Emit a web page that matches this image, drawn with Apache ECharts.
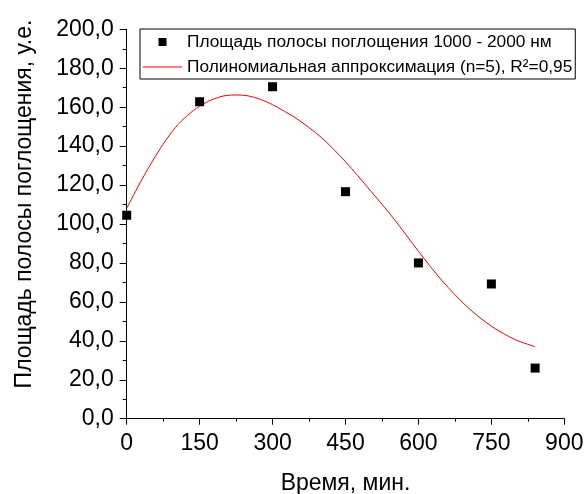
<!DOCTYPE html>
<html>
<head>
<meta charset="utf-8">
<script src="https://cdn.jsdelivr.net/npm/echarts@6/dist/echarts.min.js"></script>
<style>html,body{margin:0;padding:0;background:#fff;}#c{width:587px;height:494px;}</style>
</head>
<body>
<div id="c"></div>
<script>
// Measured points
var timeMin = [0, 150, 300, 450, 600, 750, 840];
var bandArea = [104.5, 162.8, 170.5, 116.6, 80.0, 69.2, 26.0];
// Polynomial fit curve
var fitX = [0, 25, 50, 75, 100, 125, 150, 175, 200, 225, 250, 275, 300, 350, 400, 450, 500, 550, 600, 650, 700, 750, 800, 840];
var fitY = [108, 120, 131, 141, 149.5, 155.8, 160.5, 163.8, 165.8, 166.3, 165.8, 164, 161.3, 154, 144.5, 132, 117.5, 102.5, 86, 70.5, 57.5, 47.5, 40.5, 37];
// Axis ticks
var xTicks = [0, 150, 300, 450, 600, 750, 900];
var yTicks = [0, 20, 40, 60, 80, 100, 120, 140, 160, 180, 200];

var seriesNames = ['Площадь полосы поглощения 1000 - 2000 нм', 'Полиномиальная аппроксимация (n=5), R²=0,95'];

var chart = echarts.init(document.getElementById('c'));
var font = '"Liberation Sans", Arial, sans-serif';
chart.setOption({
  animation: false,
  backgroundColor: '#fff',
  grid: { left: 126.7, right: 22.7, top: 29.3, bottom: 75.3, containLabel: false, outerBoundsMode: 'none' },
  legend: {
    left: 140, top: 29,
    orient: 'vertical',
    padding: [3, 3, 2, 3],
    itemGap: 5,
    itemWidth: 39, itemHeight: 8,
    borderColor: '#000', borderWidth: 1,
    backgroundColor: '#fff',
    textStyle: { fontFamily: font, fontSize: 17.3, color: '#000', lineHeight: 20 },
    data: [
      { name: seriesNames[0], icon: 'path://M0,0H1V1H0Z', itemStyle: { color: '#000', opacity: 1 } },
      { name: seriesNames[1], icon: 'path://M0,0H39V1H0Z', itemStyle: { color: '#ff0000' } }
    ]
  },
  xAxis: {
    type: 'value',
    min: xTicks[0], max: xTicks[xTicks.length - 1], interval: 150,
    name: 'Время, мин.',
    nameLocation: 'middle', nameGap: 53,
    nameTextStyle: { fontFamily: font, fontSize: 23, color: '#000' },
    axisLine: { lineStyle: { color: '#000', width: 1 } },
    axisTick: { show: true, inside: false, length: 6, lineStyle: { color: '#000' } },
    minorTick: { show: true, splitNumber: 2, length: 3, lineStyle: { color: '#000' } },
    splitLine: { show: false },
    axisLabel: { fontFamily: font, fontSize: 23, color: '#000', margin: 13 }
  },
  yAxis: {
    type: 'value',
    min: yTicks[0], max: yTicks[yTicks.length - 1], interval: 20,
    name: 'Площадь полосы поглощения, у.е.',
    nameLocation: 'middle', nameGap: 91,
    nameTextStyle: { fontFamily: font, fontSize: 23, color: '#000', padding: [0, 0, 0, 40] },
    axisLine: { show: true, lineStyle: { color: '#000', width: 1 } },
    axisTick: { show: true, inside: false, length: 7, lineStyle: { color: '#000' } },
    minorTick: { show: true, splitNumber: 2, length: 4, lineStyle: { color: '#000' } },
    splitLine: { show: false },
    axisLabel: {
      fontFamily: font, fontSize: 23, color: '#000', margin: 13,
      formatter: function (v) { return v.toFixed(1).replace('.', ','); }
    }
  },
  series: [
    {
      name: seriesNames[0],
      type: 'scatter',
      symbol: 'rect', symbolSize: 9,
      itemStyle: { color: '#000', opacity: 1 },
      data: timeMin.map(function (t, i) { return [t, bandArea[i]]; }),
      z: 3
    },
    {
      name: seriesNames[1],
      type: 'line',
      showSymbol: false, symbol: 'none',
      smooth: 0.3,
      lineStyle: { color: '#ff0000', width: 1 },
      itemStyle: { color: '#ff0000' },
      data: fitX.map(function (t, i) { return [t, fitY[i]]; }),
      z: 2
    }
  ]
});
</script>
</body>
</html>
